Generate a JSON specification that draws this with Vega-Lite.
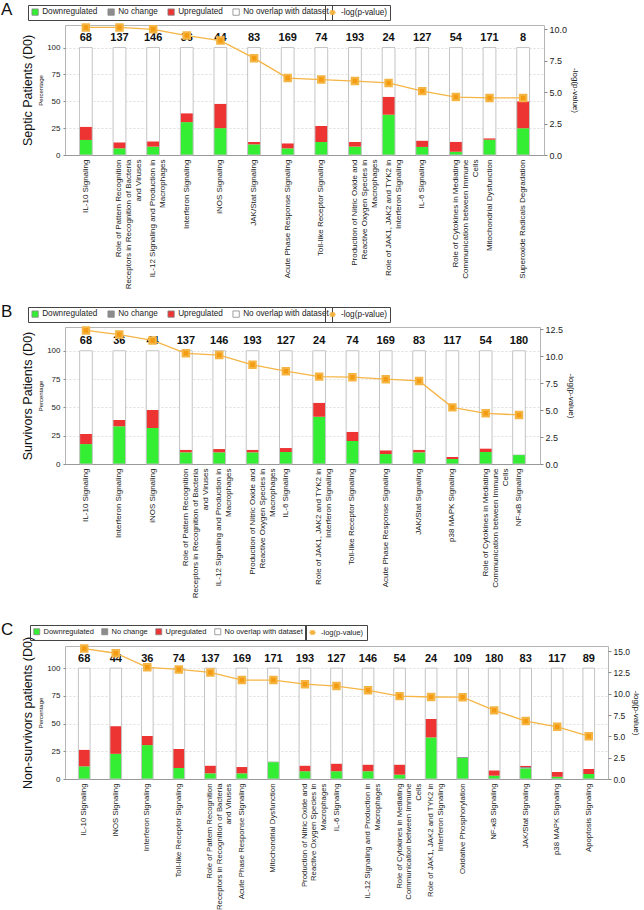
{
  "$schema": "https://vega.github.io/schema/vega-lite/v6.json",
  "padding": {"left": 0, "top": 0, "right": 0, "bottom": 0},
  "background": "white",
  "spacing": 21,
  "datasets": {
    "A": [
      {"pathway": "IL-10 Signaling", "molecules": 68, "Downregulated": 14.0, "No change": 0, "Upregulated": 12.4, "No overlap with dataset": 73.6, "neglogp": 10.15},
      {"pathway": "Role of Pattern Recognition Receptors in Recognition of Bacteria and Viruses", "molecules": 137, "Downregulated": 6.2, "No change": 0, "Upregulated": 5.6, "No overlap with dataset": 88.2, "neglogp": 10.15},
      {"pathway": "IL-12 Signaling and Production in Macrophages", "molecules": 146, "Downregulated": 7.8, "No change": 0, "Upregulated": 4.9, "No overlap with dataset": 87.3, "neglogp": 10.0},
      {"pathway": "Interferon Signaling", "molecules": 36, "Downregulated": 30.6, "No change": 0, "Upregulated": 8.3, "No overlap with dataset": 61.1, "neglogp": 9.5},
      {"pathway": "iNOS Signaling", "molecules": 44, "Downregulated": 25.0, "No change": 0, "Upregulated": 22.7, "No overlap with dataset": 52.3, "neglogp": 9.1},
      {"pathway": "JAK/Stat Signaling", "molecules": 83, "Downregulated": 9.9, "No change": 0, "Upregulated": 2.2, "No overlap with dataset": 87.9, "neglogp": 7.7},
      {"pathway": "Acute Phase Response Signaling", "molecules": 169, "Downregulated": 6.2, "No change": 0, "Upregulated": 4.7, "No overlap with dataset": 89.1, "neglogp": 6.12},
      {"pathway": "Toll-like Receptor Signaling", "molecules": 74, "Downregulated": 12.2, "No change": 0, "Upregulated": 14.9, "No overlap with dataset": 72.9, "neglogp": 6.0},
      {"pathway": "Production of Nitric Oxide and Reactive Oxygen Species in Macrophages", "molecules": 193, "Downregulated": 7.8, "No change": 0, "Upregulated": 4.3, "No overlap with dataset": 87.9, "neglogp": 5.88},
      {"pathway": "Role of JAK1, JAK2 and TYK2 in Interferon Signaling", "molecules": 24, "Downregulated": 37.5, "No change": 0, "Upregulated": 16.7, "No overlap with dataset": 45.8, "neglogp": 5.73},
      {"pathway": "IL-6 Signaling", "molecules": 127, "Downregulated": 7.5, "No change": 0, "Upregulated": 5.9, "No overlap with dataset": 86.6, "neglogp": 5.08},
      {"pathway": "Role of Cytokines in Mediating Communication between Immune Cells", "molecules": 54, "Downregulated": 3.1, "No change": 0, "Upregulated": 9.3, "No overlap with dataset": 87.6, "neglogp": 4.61},
      {"pathway": "Mitochondrial Dysfunction", "molecules": 171, "Downregulated": 14.3, "No change": 0, "Upregulated": 1.2, "No overlap with dataset": 84.5, "neglogp": 4.54},
      {"pathway": "Superoxide Radicals Degradation", "molecules": 8, "Downregulated": 25.0, "No change": 0, "Upregulated": 25.0, "No overlap with dataset": 50.0, "neglogp": 4.54}
    ],
    "B": [
      {"pathway": "IL-10 Signaling", "molecules": 68, "Downregulated": 17.6, "No change": 0, "Upregulated": 8.9, "No overlap with dataset": 73.5, "neglogp": 12.38},
      {"pathway": "Interferon Signaling", "molecules": 36, "Downregulated": 33.3, "No change": 0, "Upregulated": 5.6, "No overlap with dataset": 61.1, "neglogp": 12.0},
      {"pathway": "iNOS Signaling", "molecules": 44, "Downregulated": 31.8, "No change": 0, "Upregulated": 15.9, "No overlap with dataset": 52.3, "neglogp": 11.45},
      {"pathway": "Role of Pattern Recognition Receptors in Recognition of Bacteria and Viruses", "molecules": 137, "Downregulated": 10.3, "No change": 0, "Upregulated": 2.3, "No overlap with dataset": 87.4, "neglogp": 10.26},
      {"pathway": "IL-12 Signaling and Production in Macrophages", "molecules": 146, "Downregulated": 10.3, "No change": 0, "Upregulated": 2.9, "No overlap with dataset": 86.8, "neglogp": 10.1},
      {"pathway": "Production of Nitric Oxide and Reactive Oxygen Species in Macrophages", "molecules": 193, "Downregulated": 10.3, "No change": 0, "Upregulated": 2.3, "No overlap with dataset": 87.4, "neglogp": 9.2},
      {"pathway": "IL-6 Signaling", "molecules": 127, "Downregulated": 10.6, "No change": 0, "Upregulated": 3.5, "No overlap with dataset": 85.9, "neglogp": 8.6},
      {"pathway": "Role of JAK1, JAK2 and TYK2 in Interferon Signaling", "molecules": 24, "Downregulated": 41.7, "No change": 0, "Upregulated": 12.5, "No overlap with dataset": 45.8, "neglogp": 8.1},
      {"pathway": "Toll-like Receptor Signaling", "molecules": 74, "Downregulated": 20.3, "No change": 0, "Upregulated": 8.1, "No overlap with dataset": 71.6, "neglogp": 8.05},
      {"pathway": "Acute Phase Response Signaling", "molecules": 169, "Downregulated": 8.8, "No change": 0, "Upregulated": 3.3, "No overlap with dataset": 87.9, "neglogp": 7.86},
      {"pathway": "JAK/Stat Signaling", "molecules": 83, "Downregulated": 10.3, "No change": 0, "Upregulated": 2.3, "No overlap with dataset": 87.4, "neglogp": 7.7},
      {"pathway": "p38 MAPK Signaling", "molecules": 117, "Downregulated": 4.4, "No change": 0, "Upregulated": 1.8, "No overlap with dataset": 93.8, "neglogp": 5.25},
      {"pathway": "Role of Cytokines in Mediating Communication between Immune Cells", "molecules": 54, "Downregulated": 10.6, "No change": 0, "Upregulated": 3.2, "No overlap with dataset": 86.2, "neglogp": 4.7},
      {"pathway": "NF-κB Signaling", "molecules": 180, "Downregulated": 7.9, "No change": 0.5, "Upregulated": 0, "No overlap with dataset": 91.6, "neglogp": 4.55}
    ],
    "C": [
      {"pathway": "IL-10 Signaling", "molecules": 68, "Downregulated": 11.4, "No change": 0, "Upregulated": 15.1, "No overlap with dataset": 73.5, "neglogp": 15.3},
      {"pathway": "iNOS Signaling", "molecules": 44, "Downregulated": 22.7, "No change": 0, "Upregulated": 25.0, "No overlap with dataset": 52.3, "neglogp": 14.75},
      {"pathway": "Interferon Signaling", "molecules": 36, "Downregulated": 30.6, "No change": 0, "Upregulated": 8.3, "No overlap with dataset": 61.1, "neglogp": 13.1},
      {"pathway": "Toll-like Receptor Signaling", "molecules": 74, "Downregulated": 9.9, "No change": 0, "Upregulated": 17.2, "No overlap with dataset": 72.9, "neglogp": 12.85},
      {"pathway": "Role of Pattern Recognition Receptors in Recognition of Bacteria and Viruses", "molecules": 137, "Downregulated": 5.1, "No change": 0, "Upregulated": 7.0, "No overlap with dataset": 87.9, "neglogp": 12.5},
      {"pathway": "Acute Phase Response Signaling", "molecules": 169, "Downregulated": 5.1, "No change": 0, "Upregulated": 5.7, "No overlap with dataset": 89.2, "neglogp": 11.6},
      {"pathway": "Mitochondrial Dysfunction", "molecules": 171, "Downregulated": 15.2, "No change": 0.7, "Upregulated": 0, "No overlap with dataset": 84.1, "neglogp": 11.6},
      {"pathway": "Production of Nitric Oxide and Reactive Oxygen Species in Macrophages", "molecules": 193, "Downregulated": 7.0, "No change": 0, "Upregulated": 5.1, "No overlap with dataset": 87.9, "neglogp": 11.12},
      {"pathway": "IL-6 Signaling", "molecules": 127, "Downregulated": 7.0, "No change": 0, "Upregulated": 6.9, "No overlap with dataset": 86.1, "neglogp": 10.9},
      {"pathway": "IL-12 Signaling and Production in Macrophages", "molecules": 146, "Downregulated": 7.0, "No change": 0, "Upregulated": 6.0, "No overlap with dataset": 87.0, "neglogp": 10.4},
      {"pathway": "Role of Cytokines in Mediating Communication between Immune Cells", "molecules": 54, "Downregulated": 3.9, "No change": 0, "Upregulated": 9.1, "No overlap with dataset": 87.0, "neglogp": 9.72},
      {"pathway": "Role of JAK1, JAK2 and TYK2 in Interferon Signaling", "molecules": 24, "Downregulated": 37.5, "No change": 0, "Upregulated": 16.7, "No overlap with dataset": 45.8, "neglogp": 9.62},
      {"pathway": "Oxidative Phosphorylation", "molecules": 109, "Downregulated": 19.0, "No change": 0.8, "Upregulated": 0, "No overlap with dataset": 80.2, "neglogp": 9.6},
      {"pathway": "NF-κB Signaling", "molecules": 180, "Downregulated": 3.0, "No change": 0, "Upregulated": 4.8, "No overlap with dataset": 92.2, "neglogp": 8.05},
      {"pathway": "JAK/Stat Signaling", "molecules": 83, "Downregulated": 9.6, "No change": 1.2, "Upregulated": 1.2, "No overlap with dataset": 88.0, "neglogp": 6.8},
      {"pathway": "p38 MAPK Signaling", "molecules": 117, "Downregulated": 2.0, "No change": 0, "Upregulated": 4.3, "No overlap with dataset": 93.7, "neglogp": 6.12},
      {"pathway": "Apoptosis Signaling", "molecules": 89, "Downregulated": 4.5, "No change": 0, "Upregulated": 4.5, "No overlap with dataset": 91.0, "neglogp": 5.02}
    ]
  },
  "resolve": {"scale": {"color": "independent", "stroke": "independent"}, "legend": {"color": "independent", "stroke": "independent"}},
  "vconcat": [
    {
      "spacing": 12,
      "resolve": {"scale": {"color": "independent", "stroke": "independent"}, "legend": {"color": "independent", "stroke": "independent"}},
      "vconcat": [
        {
          "title": {"text": "A"},
          "width": 479,
          "height": 130,
          "data": {"name": "A"},
          "resolve": {"scale": {"y": "independent"}},
          "layer": [
            {
              "transform": [
                {"fold": ["Downregulated", "No change", "Upregulated", "No overlap with dataset"], "as": ["status", "pct"]},
                {"window": [{"op": "row_number", "as": "seg"}]}
              ],
              "mark": {"type": "bar", "width": {"band": 0.38}},
              "encoding": {
                "x": {"field": "pathway", "type": "nominal", "sort": null, "scale": {"paddingInner": 0, "paddingOuter": 0.12},
                  "axis": {"title": null, "labelAngle": -90, "labelFontSize": 8, "labelLineHeight": 10, "labelPadding": 4, "ticks": false, "labelLimit": 250, "domainColor": "#999",
                    "labelExpr": "datum.value == 'Role of Pattern Recognition Receptors in Recognition of Bacteria and Viruses' ? ['Role of Pattern Recognition', 'Receptors in Recognition of Bacteria', 'and Viruses'] : datum.value == 'IL-12 Signaling and Production in Macrophages' ? ['IL-12 Signaling and Production in', 'Macrophages'] : datum.value == 'Production of Nitric Oxide and Reactive Oxygen Species in Macrophages' ? ['Production of Nitric Oxide and', 'Reactive Oxygen Species in', 'Macrophages'] : datum.value == 'Role of JAK1, JAK2 and TYK2 in Interferon Signaling' ? ['Role of JAK1, JAK2 and TYK2 in', 'Interferon Signaling'] : datum.value == 'Role of Cytokines in Mediating Communication between Immune Cells' ? ['Role of Cytokines in Mediating', 'Communication between Immune', 'Cells'] : datum.label",
                    "encode": {"labels": {"update": {
                      "align": {"signal": "indexof(['Role of Pattern Recognition Receptors in Recognition of Bacteria and Viruses', 'IL-12 Signaling and Production in Macrophages', 'Production of Nitric Oxide and Reactive Oxygen Species in Macrophages', 'Role of JAK1, JAK2 and TYK2 in Interferon Signaling', 'Role of Cytokines in Mediating Communication between Immune Cells'], datum.value) >= 0 ? 'center' : 'right'"},
                      "dx": {"signal": "-4 * (datum.value == 'Role of Pattern Recognition Receptors in Recognition of Bacteria and Viruses' ? 16.229 : datum.value == 'IL-12 Signaling and Production in Macrophages' ? 14.73 : datum.value == 'Production of Nitric Oxide and Reactive Oxygen Species in Macrophages' ? 13.283 : datum.value == 'Role of JAK1, JAK2 and TYK2 in Interferon Signaling' ? 14.563 : datum.value == 'Role of Cytokines in Mediating Communication between Immune Cells' ? 14.899 : 0)"}
                    }}}}},
                "y": {"field": "pct", "type": "quantitative", "stack": "zero", "scale": {"domain": [0, 121], "nice": false},
                  "axis": {"values": [0, 25, 50, 75, 100], "title": "Percentage", "titleFontSize": 6, "titleFontWeight": "normal", "titlePadding": 3, "labelFontSize": 8, "tickSize": 2, "labelPadding": 3, "grid": true, "domain": false}},
                "color": {"field": "status", "type": "nominal", "scale": {"domain": ["Downregulated", "No change", "Upregulated", "No overlap with dataset"], "range": ["#33ee33", "#8c8c8c", "#ee3333", "#ffffff"]},
                  "legend": {"orient": "none", "legendX": -37, "legendY": -20, "direction": "horizontal", "gridAlign": "none", "title": null, "symbolType": "square", "symbolSize": 40, "symbolStrokeColor": "#888", "symbolStrokeWidth": 0.8, "labelFontSize": 8.2, "labelOffset": 3, "columnPadding": 8, "strokeColor": "#444", "padding": 3}},
                "order": {"field": "seg", "type": "quantitative", "sort": "ascending"}
              }
            },
            {
              "transform": [{"fold": ["Downregulated", "No change", "Upregulated", "No overlap with dataset"], "as": ["status", "pct"]}],
              "mark": {"type": "bar", "width": {"band": 0.38}, "fill": "transparent", "stroke": "#c4c4c4", "strokeWidth": 1},
              "encoding": {
                "x": {"field": "pathway", "type": "nominal", "sort": null},
                "y": {"aggregate": "sum", "field": "pct", "type": "quantitative", "stack": null, "scale": {"domain": [0, 121], "nice": false}, "axis": null}
              }
            },
            {
              "mark": {"type": "text", "fontWeight": "bold", "fontSize": 11, "baseline": "middle"},
              "encoding": {
                "x": {"field": "pathway", "type": "nominal", "sort": null},
                "y": {"datum": 109, "type": "quantitative", "scale": {"domain": [0, 121], "nice": false},
                  "axis": {"orient": "left", "title": "Septic Patients (D0)", "labels": false, "ticks": false, "domain": false, "grid": false, "titleFontSize": 12.5, "titleFontWeight": "normal", "titlePadding": 31}},
                "text": {"field": "molecules"}
              }
            },
            {
              "mark": {"type": "line", "strokeWidth": 1.3, "point": {"shape": "square", "size": 42, "filled": true, "fill": "#f39c12"}},
              "encoding": {
                "x": {"field": "pathway", "type": "nominal", "sort": null},
                "y": {"field": "neglogp", "type": "quantitative", "scale": {"domain": [0, 10.34], "nice": false},
                  "axis": {"orient": "right", "title": "-log(p-value)", "values": [0, 2.5, 5, 7.5, 10], "format": ".1f", "labelFontSize": 9, "titleFontSize": 8, "titleFontWeight": "normal", "tickSize": 3, "labelPadding": 2, "grid": false, "domain": false, "titlePadding": 4}},
                "stroke": {"datum": "-log(p-value)", "type": "nominal", "scale": {"range": ["#f5b544"]},
                  "legend": {"orient": "none", "legendX": 260, "legendY": -20, "title": null, "symbolType": "M-0.9,0H0.9M-0.45,-0.45H0.45V0.45H-0.45Z", "symbolSize": 49, "symbolStrokeWidth": 1.3, "labelFontSize": 8.2, "labelOffset": 4, "strokeColor": "#444", "padding": 3,
                    "encode": {"symbols": {"update": {"fill": {"value": "#f39c12"}, "stroke": {"value": "#f39c12"}}}}}}
              }
            }
          ]
        },
        {
          "title": {"text": "B"},
          "width": 475,
          "height": 137,
          "data": {"name": "B"},
          "resolve": {"scale": {"y": "independent"}},
          "layer": [
            {
              "transform": [
                {"fold": ["Downregulated", "No change", "Upregulated", "No overlap with dataset"], "as": ["status", "pct"]},
                {"window": [{"op": "row_number", "as": "seg"}]}
              ],
              "mark": {"type": "bar", "width": {"band": 0.38}},
              "encoding": {
                "x": {"field": "pathway", "type": "nominal", "sort": null, "scale": {"paddingInner": 0, "paddingOuter": 0.13},
                  "axis": {"title": null, "labelAngle": -90, "labelFontSize": 8, "labelLineHeight": 10, "labelPadding": 4, "ticks": false, "labelLimit": 250, "domainColor": "#999",
                    "labelExpr": "datum.value == 'Role of Pattern Recognition Receptors in Recognition of Bacteria and Viruses' ? ['Role of Pattern Recognition', 'Receptors in Recognition of Bacteria', 'and Viruses'] : datum.value == 'IL-12 Signaling and Production in Macrophages' ? ['IL-12 Signaling and Production in', 'Macrophages'] : datum.value == 'Production of Nitric Oxide and Reactive Oxygen Species in Macrophages' ? ['Production of Nitric Oxide and', 'Reactive Oxygen Species in', 'Macrophages'] : datum.value == 'Role of JAK1, JAK2 and TYK2 in Interferon Signaling' ? ['Role of JAK1, JAK2 and TYK2 in', 'Interferon Signaling'] : datum.value == 'Role of Cytokines in Mediating Communication between Immune Cells' ? ['Role of Cytokines in Mediating', 'Communication between Immune', 'Cells'] : datum.label",
                    "encode": {"labels": {"update": {
                      "align": {"signal": "indexof(['Role of Pattern Recognition Receptors in Recognition of Bacteria and Viruses', 'IL-12 Signaling and Production in Macrophages', 'Production of Nitric Oxide and Reactive Oxygen Species in Macrophages', 'Role of JAK1, JAK2 and TYK2 in Interferon Signaling', 'Role of Cytokines in Mediating Communication between Immune Cells'], datum.value) >= 0 ? 'center' : 'right'"},
                      "dx": {"signal": "-4 * (datum.value == 'Role of Pattern Recognition Receptors in Recognition of Bacteria and Viruses' ? 16.229 : datum.value == 'IL-12 Signaling and Production in Macrophages' ? 14.73 : datum.value == 'Production of Nitric Oxide and Reactive Oxygen Species in Macrophages' ? 13.283 : datum.value == 'Role of JAK1, JAK2 and TYK2 in Interferon Signaling' ? 14.563 : datum.value == 'Role of Cytokines in Mediating Communication between Immune Cells' ? 14.899 : 0)"}
                    }}}}},
                "y": {"field": "pct", "type": "quantitative", "stack": "zero", "scale": {"domain": [0, 121], "nice": false},
                  "axis": {"values": [0, 25, 50, 75, 100], "title": "Percentage", "titleFontSize": 6, "titleFontWeight": "normal", "titlePadding": 3, "labelFontSize": 8, "tickSize": 2, "labelPadding": 3, "grid": true, "domain": false}},
                "color": {"field": "status", "type": "nominal", "scale": {"domain": ["Downregulated", "No change", "Upregulated", "No overlap with dataset"], "range": ["#33ee33", "#8c8c8c", "#ee3333", "#ffffff"]},
                  "legend": {"orient": "none", "legendX": -37, "legendY": -20, "direction": "horizontal", "gridAlign": "none", "title": null, "symbolType": "square", "symbolSize": 40, "symbolStrokeColor": "#888", "symbolStrokeWidth": 0.8, "labelFontSize": 8.2, "labelOffset": 3, "columnPadding": 8, "strokeColor": "#444", "padding": 3}},
                "order": {"field": "seg", "type": "quantitative", "sort": "ascending"}
              }
            },
            {
              "transform": [{"fold": ["Downregulated", "No change", "Upregulated", "No overlap with dataset"], "as": ["status", "pct"]}],
              "mark": {"type": "bar", "width": {"band": 0.38}, "fill": "transparent", "stroke": "#c4c4c4", "strokeWidth": 1},
              "encoding": {
                "x": {"field": "pathway", "type": "nominal", "sort": null},
                "y": {"aggregate": "sum", "field": "pct", "type": "quantitative", "stack": null, "scale": {"domain": [0, 121], "nice": false}, "axis": null}
              }
            },
            {
              "mark": {"type": "text", "fontWeight": "bold", "fontSize": 11, "baseline": "middle"},
              "encoding": {
                "x": {"field": "pathway", "type": "nominal", "sort": null},
                "y": {"datum": 109, "type": "quantitative", "scale": {"domain": [0, 121], "nice": false},
                  "axis": {"orient": "left", "title": "Survivors Patients (D0)", "labels": false, "ticks": false, "domain": false, "grid": false, "titleFontSize": 12.5, "titleFontWeight": "normal", "titlePadding": 31}},
                "text": {"field": "molecules"}
              }
            },
            {
              "mark": {"type": "line", "strokeWidth": 1.3, "point": {"shape": "square", "size": 42, "filled": true, "fill": "#f39c12"}},
              "encoding": {
                "x": {"field": "pathway", "type": "nominal", "sort": null},
                "y": {"field": "neglogp", "type": "quantitative", "scale": {"domain": [0, 12.7], "nice": false},
                  "axis": {"orient": "right", "title": "-log(p-value)", "values": [0, 2.5, 5, 7.5, 10, 12.5], "format": ".1f", "labelFontSize": 9, "titleFontSize": 8, "titleFontWeight": "normal", "tickSize": 3, "labelPadding": 2, "grid": false, "domain": false, "titlePadding": 4}},
                "stroke": {"datum": "-log(p-value)", "type": "nominal", "scale": {"range": ["#f5b544"]},
                  "legend": {"orient": "none", "legendX": 260, "legendY": -20, "title": null, "symbolType": "M-0.9,0H0.9M-0.45,-0.45H0.45V0.45H-0.45Z", "symbolSize": 49, "symbolStrokeWidth": 1.3, "labelFontSize": 8.2, "labelOffset": 4, "strokeColor": "#444", "padding": 3,
                    "encode": {"symbols": {"update": {"fill": {"value": "#f39c12"}, "stroke": {"value": "#f39c12"}}}}}}
              }
            }
          ]
        }
      ]
    },
    {
      "title": {"text": "C"},
      "width": 543,
      "height": 133,
      "data": {"name": "C"},
      "resolve": {"scale": {"y": "independent"}},
      "layer": [
        {
          "transform": [
            {"fold": ["Downregulated", "No change", "Upregulated", "No overlap with dataset"], "as": ["status", "pct"]},
            {"window": [{"op": "row_number", "as": "seg"}]}
          ],
          "mark": {"type": "bar", "width": {"band": 0.37}},
          "encoding": {
            "x": {"field": "pathway", "type": "nominal", "sort": null, "scale": {"paddingInner": 0, "paddingOuter": 0.11},
              "axis": {"title": null, "labelAngle": -90, "labelFontSize": 7.8, "labelLineHeight": 9.5, "labelPadding": 4, "ticks": false, "labelLimit": 250, "domainColor": "#999",
                "labelExpr": "datum.value == 'Role of Pattern Recognition Receptors in Recognition of Bacteria and Viruses' ? ['Role of Pattern Recognition', 'Receptors in Recognition of Bacteria', 'and Viruses'] : datum.value == 'IL-12 Signaling and Production in Macrophages' ? ['IL-12 Signaling and Production in', 'Macrophages'] : datum.value == 'Production of Nitric Oxide and Reactive Oxygen Species in Macrophages' ? ['Production of Nitric Oxide and', 'Reactive Oxygen Species in', 'Macrophages'] : datum.value == 'Role of JAK1, JAK2 and TYK2 in Interferon Signaling' ? ['Role of JAK1, JAK2 and TYK2 in', 'Interferon Signaling'] : datum.value == 'Role of Cytokines in Mediating Communication between Immune Cells' ? ['Role of Cytokines in Mediating', 'Communication between Immune', 'Cells'] : datum.label",
                "encode": {"labels": {"update": {
                  "align": {"signal": "indexof(['Role of Pattern Recognition Receptors in Recognition of Bacteria and Viruses', 'IL-12 Signaling and Production in Macrophages', 'Production of Nitric Oxide and Reactive Oxygen Species in Macrophages', 'Role of JAK1, JAK2 and TYK2 in Interferon Signaling', 'Role of Cytokines in Mediating Communication between Immune Cells'], datum.value) >= 0 ? 'center' : 'right'"},
                  "dx": {"signal": "-3.9 * (datum.value == 'Role of Pattern Recognition Receptors in Recognition of Bacteria and Viruses' ? 16.229 : datum.value == 'IL-12 Signaling and Production in Macrophages' ? 14.73 : datum.value == 'Production of Nitric Oxide and Reactive Oxygen Species in Macrophages' ? 13.283 : datum.value == 'Role of JAK1, JAK2 and TYK2 in Interferon Signaling' ? 14.563 : datum.value == 'Role of Cytokines in Mediating Communication between Immune Cells' ? 14.899 : 0)"}
                }}}}},
            "y": {"field": "pct", "type": "quantitative", "stack": "zero", "scale": {"domain": [0, 120], "nice": false},
              "axis": {"values": [0, 25, 50, 75, 100], "title": "Percentage", "titleFontSize": 6, "titleFontWeight": "normal", "titlePadding": 3, "labelFontSize": 8, "tickSize": 2, "labelPadding": 3, "grid": true, "domain": false}},
            "color": {"field": "status", "type": "nominal", "scale": {"domain": ["Downregulated", "No change", "Upregulated", "No overlap with dataset"], "range": ["#33ee33", "#8c8c8c", "#ee3333", "#ffffff"]},
              "legend": {"orient": "none", "legendX": -35, "legendY": -21, "direction": "horizontal", "gridAlign": "none", "title": null, "symbolType": "square", "symbolSize": 36, "symbolStrokeColor": "#888", "symbolStrokeWidth": 0.8, "labelFontSize": 7.5, "labelOffset": 3, "columnPadding": 6, "strokeColor": "#444", "padding": 3}},
            "order": {"field": "seg", "type": "quantitative", "sort": "ascending"}
          }
        },
        {
          "transform": [{"fold": ["Downregulated", "No change", "Upregulated", "No overlap with dataset"], "as": ["status", "pct"]}],
          "mark": {"type": "bar", "width": {"band": 0.37}, "fill": "transparent", "stroke": "#c4c4c4", "strokeWidth": 1},
          "encoding": {
            "x": {"field": "pathway", "type": "nominal", "sort": null},
            "y": {"aggregate": "sum", "field": "pct", "type": "quantitative", "stack": null, "scale": {"domain": [0, 120], "nice": false}, "axis": null}
          }
        },
        {
          "mark": {"type": "text", "fontWeight": "bold", "fontSize": 11, "baseline": "middle"},
          "encoding": {
            "x": {"field": "pathway", "type": "nominal", "sort": null},
            "y": {"datum": 108, "type": "quantitative", "scale": {"domain": [0, 120], "nice": false},
              "axis": {"orient": "left", "title": "Non-survivors patients (D0)", "labels": false, "ticks": false, "domain": false, "grid": false, "titleFontSize": 12.5, "titleFontWeight": "normal", "titlePadding": 31}},
            "text": {"field": "molecules"}
          }
        },
        {
          "mark": {"type": "line", "strokeWidth": 1.3, "point": {"shape": "square", "size": 42, "filled": true, "fill": "#f39c12"}},
          "encoding": {
            "x": {"field": "pathway", "type": "nominal", "sort": null},
            "y": {"field": "neglogp", "type": "quantitative", "scale": {"domain": [0, 15.6], "nice": false},
              "axis": {"orient": "right", "title": "-log(p-value)", "values": [0, 2.5, 5, 7.5, 10, 12.5, 15], "format": ".1f", "labelFontSize": 8.5, "titleFontSize": 8, "titleFontWeight": "normal", "tickSize": 3, "labelPadding": 2, "grid": false, "domain": false, "titlePadding": 2}},
            "stroke": {"datum": "-log(p-value)", "type": "nominal", "scale": {"range": ["#f5b544"]},
              "legend": {"orient": "none", "legendX": 240, "legendY": -21, "title": null, "symbolType": "M-0.9,0H0.9M-0.45,-0.45H0.45V0.45H-0.45Z", "symbolSize": 49, "symbolStrokeWidth": 1.3, "labelFontSize": 7.5, "labelOffset": 4, "strokeColor": "#444", "padding": 3,
                "encode": {"symbols": {"update": {"fill": {"value": "#f39c12"}, "stroke": {"value": "#f39c12"}}}}}}
          }
        }
      ]
    }
  ],
  "config": {
    "font": "Liberation Sans",
    "view": {"stroke": "#b5b5b5"},
    "axis": {"labelFont": "Liberation Sans", "titleFont": "Liberation Sans", "labelColor": "#222", "titleColor": "#111", "tickColor": "#888", "gridColor": "#dedede", "gridDash": [2, 2]},
    "legend": {"labelFont": "Liberation Sans", "labelColor": "#222"},
    "text": {"font": "Liberation Sans", "color": "#111"},
    "title": {"font": "Liberation Sans", "fontSize": 17, "fontWeight": "normal", "anchor": "start", "frame": "bounds", "dx": -20, "dy": 18, "offset": 0, "color": "#111"}
  }
}
